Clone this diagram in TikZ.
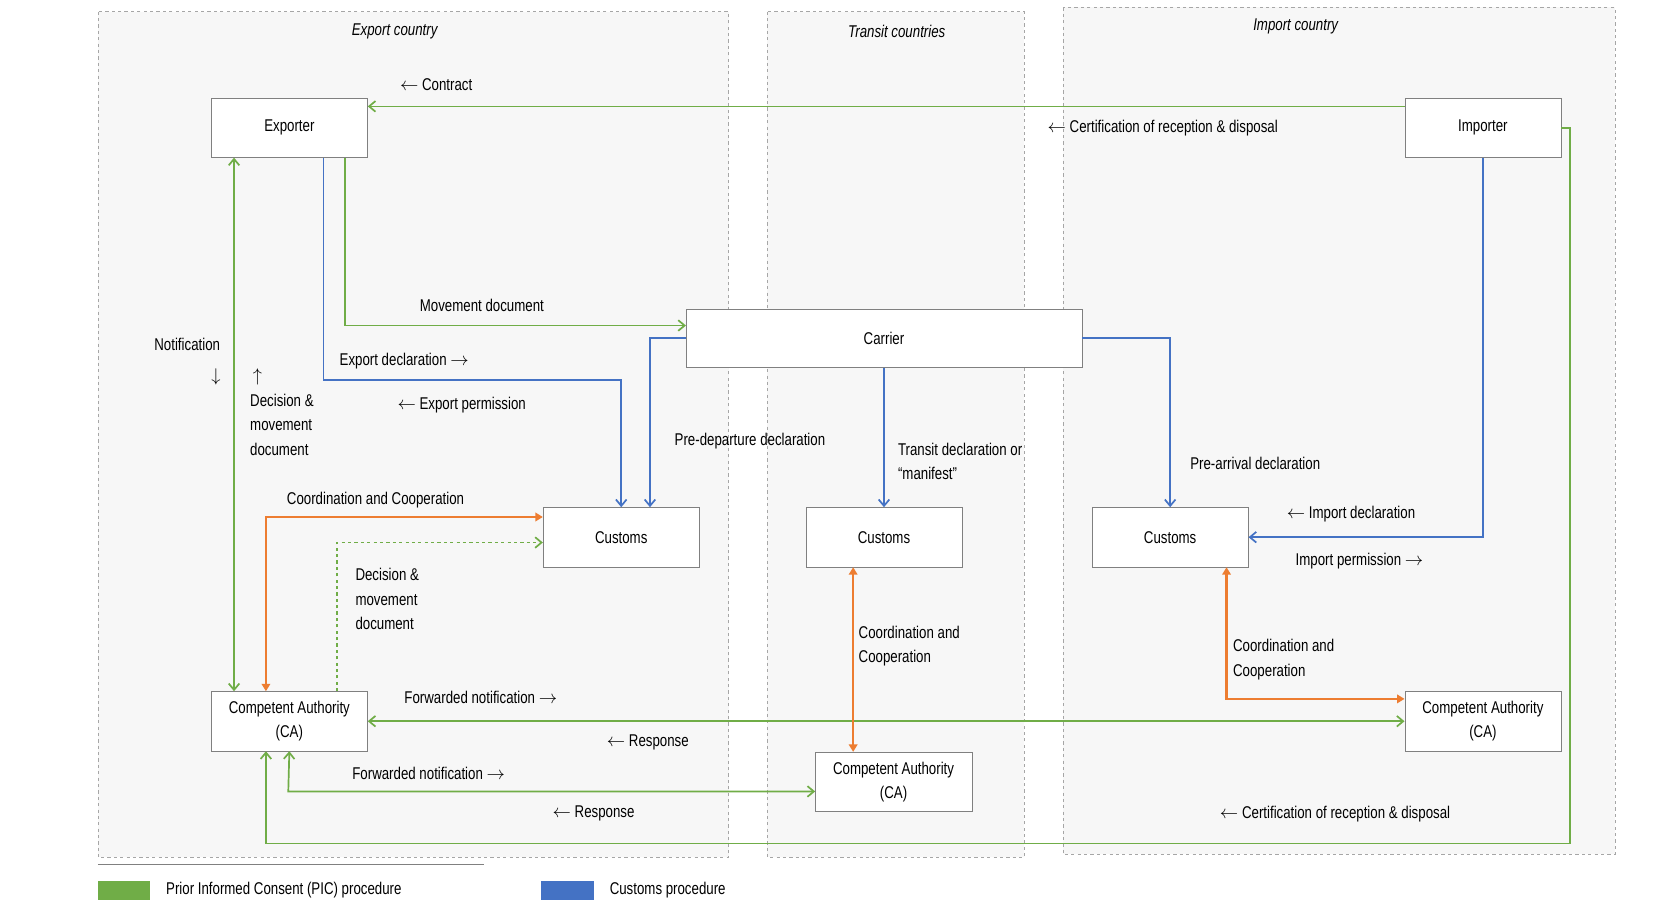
\documentclass[tikz,border=0pt]{standalone}
\usepackage{fontspec}
\setmainfont{Liberation Sans}[FakeStretch=0.78]
\usepackage{tikz}
\usetikzlibrary{arrows.meta,positioning}
\definecolor{pic}{HTML}{70AD47}
\definecolor{cus}{HTML}{4472C4}
\definecolor{coo}{HTML}{ED7D31}
\tikzset{
  box/.style={draw=gray,fill=white,minimum width=147pt,minimum height=56pt,align=center,inner sep=1pt},
  zone/.style={draw=gray!70,dashed,fill=gray!6},
  lbl/.style={font=\fontsize{16}{23}\selectfont,inner sep=1pt},
  gr/.style={pic,line width=1.6pt,-{Straight Barb[length=6pt,width=10pt]}},
  bl/.style={cus,line width=1.6pt,-{Straight Barb[length=6pt,width=10pt]}},
  og/.style={coo,line width=2pt,{Triangle[length=7pt,width=8pt]}-{Triangle[length=7pt,width=8pt]}}
}
\begin{document}
\begin{tikzpicture}[x=1pt,y=-1pt,font=\fontsize{16}{23}\selectfont]
      \useasboundingbox (0,0) rectangle (1568,861);
      % zones
      \draw[zone] (92,11) rectangle (685,806);
      \draw[zone] (721,11) rectangle (963,806);
      \draw[zone] (999,7) rectangle (1518,803);
      \node[lbl,font=\fontsize{16}{18}\selectfont\itshape] at (371,30) {Export country};
      \node[lbl,font=\fontsize{16}{18}\selectfont\itshape] at (843,30) {Transit countries};
      \node[lbl,font=\fontsize{16}{18}\selectfont\itshape] at (1218,25) {Import country};
      % boxes
      \node[box] (exp) at (272,120) {Exporter};
      \node[box] (imp) at (1394,120) {Importer};
      \node[box,minimum width=372pt,minimum height=55pt] (car) at (831,318) {Carrier};
      \node[box] (cus1) at (584,505) {Customs};
      \node[box] (cus2) at (831,505) {Customs};
      \node[box] (cus3) at (1100,505) {Customs};
      \node[box] (ca1) at (272,678) {Competent Authority\\(CA)};
      \node[box] (ca2) at (840,735) {Competent Authority\\(CA)};
      \node[box] (ca3) at (1394,678) {Competent Authority\\(CA)};
      % PIC procedure
      \draw[gr] (imp.west |- 0,100) -- (exp.east |- 0,100);
      \draw[gr] (imp.east) -- (1476,120) -- (1476,793) -- (250,793) -- (ca1.south -| 250,0);
      \draw[gr] (exp.south -| 324,0) -- (324,306) -- (car.west |- 0,306);
      \draw[gr,{Straight Barb[length=6pt,width=10pt]}-{Straight Barb[length=6pt,width=10pt]}] (exp.south -| 220,0) -- (ca1.north -| 220,0);
      \draw[gr,dashed] (ca1.north -| 317,0) -- (317,510) -- (cus1.west |- 0,510);
      \draw[gr,{Straight Barb[length=6pt,width=10pt]}-{Straight Barb[length=6pt,width=10pt]}] (ca1.east) -- (ca3.west);
      \draw[gr,{Straight Barb[length=6pt,width=10pt]}-{Straight Barb[length=6pt,width=10pt]}] (ca1.south) -- (271,744) -- (ca2.west |- 0,744);
      % customs procedure
      \draw[bl] (exp.south -| 304,0) -- (304,357) -- (584,357) -- (cus1.north);
      \draw[bl] (car.west) -- (611,318) -- (cus1.north -| 611,0);
      \draw[bl] (car.south) -- (cus2.north);
      \draw[bl] (car.east) -- (1100,318) -- (cus3.north);
      \draw[bl] (imp.south) -- (1394,505) -- (cus3.east);
      % coordination
      \draw[og] (ca1.north -| 250,0) -- (250,486) -- (cus1.west |- 0,486);
      \draw[og] (cus2.south -| 802,0) -- (ca2.north -| 802,0);
      \draw[og] (cus3.south -| 1153,0) -- (1153,657) -- (ca3.west |- 0,657);
      % labels
      \node[lbl] at (410,80) {$\leftarrow$ Contract};
      \node[lbl] at (1093,120) {$\leftarrow$ Certification of reception \& disposal};
      \node[lbl] at (1255,765) {$\leftarrow$ Certification of reception \& disposal};
      \node[lbl] at (453,287) {Movement document};
      \node[lbl] at (380,339) {Export declaration $\rightarrow$};
      \node[lbl] at (434,381) {$\leftarrow$ Export permission};
      \node[lbl] at (705,415) {Pre-departure declaration};
      \node[lbl,align=left,anchor=west] at (843,434) {Transit declaration or\\``manifest''};
      \node[lbl] at (1180,436) {Pre-arrival declaration};
      \node[lbl] at (1270,483) {$\leftarrow$ Import declaration};
      \node[lbl] at (1278,527) {Import permission $\rightarrow$};
      \node[lbl] at (176,324) {Notification};
      \node[lbl] at (203,354) {$\downarrow$};
      \node[lbl] at (242,354) {$\uparrow$};
      \node[lbl,align=left,anchor=north west] at (234,369) {Decision \&\\movement\\document};
      \node[lbl] at (353,470) {Coordination and Cooperation};
      \node[lbl,align=left,anchor=north west] at (333,533) {Decision \&\\movement\\document};
      \node[lbl] at (452,656) {Forwarded notification $\rightarrow$};
      \node[lbl] at (609,698) {$\leftarrow$ Response};
      \node[lbl] at (403,727) {Forwarded notification $\rightarrow$};
      \node[lbl] at (558,765) {$\leftarrow$ Response};
      \node[lbl,align=left,anchor=north west] at (806,587) {Coordination and\\Cooperation};
      \node[lbl,align=left,anchor=north west] at (1158,600) {Coordination and\\Cooperation};
      % legend
      \draw[gray] (92,812) -- (455,812);
      \fill[pic] (92,828) rectangle (141,846);
      \node[lbl,anchor=west] at (155,837) {Prior Informed Consent (PIC) procedure};
      \fill[cus] (509,828) rectangle (558,846);
      \node[lbl,anchor=west] at (572,837) {Customs procedure};
    \end{tikzpicture}
\end{document}
